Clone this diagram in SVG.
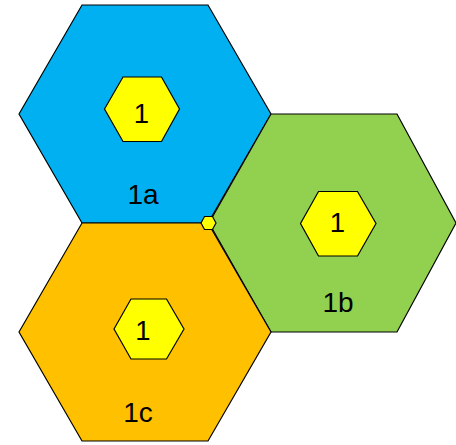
<svg xmlns="http://www.w3.org/2000/svg" width="456" height="445" viewBox="0 0 456 445">
<style>
.hex{stroke:#000;stroke-width:1.2;stroke-linejoin:miter}
.blue{fill:#00B0F0}.green{fill:#92D050}.orange{fill:#FFC000}.yel{fill:#FFFF00}
.lbl{font-family:"Liberation Sans",Arial,sans-serif;font-size:28px;fill:#000;text-anchor:middle}
.num{font-family:"Liberation Sans",Arial,sans-serif;font-size:27.5px;fill:#000;text-anchor:middle}
</style>
<rect width="456" height="445" fill="#fff"/>
<g id="node-1a">
<polygon class="hex blue" points="19,114 82,5 208,5 271,114 208,223 82,223"/>
<polygon class="hex yel" points="104.5,109 123,77 161.5,77 179.5,109 161.5,141.5 123,141.5"/>
<text class="num" x="141.5" y="122.5">1</text>
<text class="lbl" x="143" y="204">1a</text>
</g>
<g id="node-1b">
<polygon class="hex green" points="209,223 271,114 397,114 456,223 397,332 271,332"/>
<polygon class="hex yel" points="300.5,223.5 318.5,191.5 357.5,191.5 376,223.5 357.5,256 318.5,256"/>
<text class="num" x="337.5" y="232">1</text>
<text class="lbl" x="338" y="312">1b</text>
</g>
<g id="node-1c">
<polygon class="hex orange" points="19,332 82,223 208,223 271,332 208,441 82,441"/>
<polygon class="hex yel" points="114,329 131,299 166.5,299 184,329 166.5,359 131,359"/>
<text class="num" x="143" y="339.5">1</text>
<text class="lbl" x="138" y="422">1c</text>
</g>
<g id="node-junction">
<polygon class="hex yel" points="201,223 204.5,216.5 212.5,216.5 216,223 212.5,229.5 204.5,229.5"/>
</g>
<g id="connectors"></g>
</svg>
